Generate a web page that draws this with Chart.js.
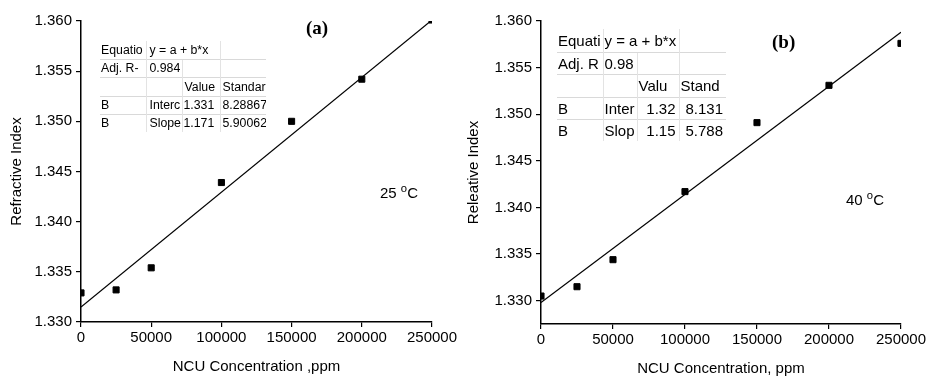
<!DOCTYPE html>
<html>
<head>
<meta charset="utf-8">
<script src="https://cdn.jsdelivr.net/npm/chart.js@4.4.0/dist/chart.umd.min.js"></script>
<style>
  body { margin: 0; background: #fff; }
  #wrap { position: relative; width: 928px; height: 378px; overflow: hidden; background: #fff; }
  canvas { position: absolute; top: 0; }
  #chart-a { left: 0; }
  #chart-b { left: 464px; }
  .lbl { position: absolute; font-family: "Liberation Serif", serif; font-weight: bold; color: #000; white-space: nowrap; }
  .temp { position: absolute; font-family: "Liberation Sans", Arial, sans-serif; color: #000; white-space: nowrap; }
  .temp sup { font-size: 0.75em; position: relative; top: -0.2em; vertical-align: top; }
  table.fit { position: absolute; border-collapse: collapse; table-layout: fixed;
              font-family: "Liberation Sans", Arial, sans-serif; color: #000; }
  table.fit td { padding: 0 0 0 1px; white-space: nowrap; overflow: hidden; }
  table.fit tr + tr td { border-top: 1px solid #d9d9d9; }
  table.fit td.vl { border-left: 1px solid #e3e3e3; }
  table.fit td.num { text-align: right; }
</style>
</head>
<body>
<div id="wrap">
  <canvas id="chart-a" width="464" height="378"></canvas>
  <canvas id="chart-b" width="464" height="378"></canvas>

  <div class="lbl" style="left:306px; top:17px; font-size:19px;">(a)</div>
  <div class="lbl" style="left:772px; top:31px; font-size:19px;">(b)</div>

  <div class="temp" style="left:380px; top:184px; font-size:15px;">25 <sup>o</sup>C</div>
  <div class="temp" style="left:846px; top:191px; font-size:15px;">40 <sup>o</sup>C</div>

  <table class="fit" id="table-a" style="left:100px; top:41px; font-size:12.3px; width:166px;">
    <colgroup><col style="width:46px"><col style="width:36px"><col style="width:38px"><col style="width:46px"></colgroup>
    <tr style="height:18px"><td>Equatio</td><td class="vl" colspan="2" style="padding-left:3px">y = a + b*x</td><td class="vl"></td></tr>
    <tr style="height:18px"><td>Adj. R-</td><td class="vl" style="padding-left:3px">0.984</td><td class="vl"></td><td class="vl"></td></tr>
    <tr style="height:19px"><td></td><td class="vl"></td><td class="vl" style="padding-left:2px">Value</td><td class="vl" style="padding-left:2px">Standar</td></tr>
    <tr style="height:18px"><td>B</td><td class="vl" style="padding-left:3px">Interc</td><td class="vl num" style="padding-right:7px">1.331</td><td class="vl" style="padding-left:2px">8.28867</td></tr>
    <tr style="height:18px"><td>B</td><td class="vl" style="padding-left:3px">Slope</td><td class="vl num" style="padding-right:7px">1.171</td><td class="vl" style="padding-left:2px">5.90062</td></tr>
  </table>

  <table class="fit" id="table-b" style="left:557px; top:29px; font-size:15px; width:169px;">
    <colgroup><col style="width:46px"><col style="width:34px"><col style="width:42px"><col style="width:47px"></colgroup>
    <tr style="height:23px"><td>Equati</td><td class="vl" colspan="2">y = a + b*x</td><td class="vl"></td></tr>
    <tr style="height:22px"><td>Adj. R</td><td class="vl">0.98</td><td class="vl"></td><td class="vl"></td></tr>
    <tr style="height:23px"><td></td><td class="vl"></td><td class="vl">Valu</td><td class="vl">Stand</td></tr>
    <tr style="height:22px"><td>B</td><td class="vl">Inter</td><td class="vl num" style="padding-right:3px">1.32</td><td class="vl num" style="padding-right:3px">8.131</td></tr>
    <tr style="height:22px"><td>B</td><td class="vl">Slop</td><td class="vl num" style="padding-right:3px">1.15</td><td class="vl num" style="padding-right:3px">5.788</td></tr>
  </table>
</div>

<script>
// NCU concentration (ppm) and measured indices
const concentration = [0, 25000, 50000, 100000, 150000, 200000, 250000];
const indexA = [1.3329, 1.3332, 1.3354, 1.3439, 1.3500, 1.3542, 1.3601]; // 25 oC
const indexB = [1.3305, 1.3315, 1.3344, 1.3417, 1.3491, 1.3531, 1.3576]; // 40 oC

// linear fit lines (end points)
const fitX = [0, 250000];
const fitA = [1.3315, 1.3601];
const fitB = [1.3298, 1.3588];

// tick labels
const xTicks = [0, 50000, 100000, 150000, 200000, 250000];
const yTicks = [1.330, 1.335, 1.340, 1.345, 1.350, 1.355, 1.360];

const FONT = 'Liberation Sans';

function toPoints(xs, ys) {
    return xs.map((x, i) => ({ x: x, y: ys[i] }));
}

function makeChart(id, values, fit, cfg) {
    const ctx = document.getElementById(id).getContext('2d');
    return new Chart(ctx, {
        type: 'scatter',
        data: {
            datasets: [{
                label: 'data',
                data: toPoints(concentration, values),
                pointStyle: 'rect',
                pointRadius: 4.3,
                backgroundColor: '#000',
                borderColor: '#000',
                borderWidth: 1
            }, {
                label: 'fit',
                data: toPoints(fitX, fit),
                showLine: true,
                pointRadius: 0,
                borderColor: '#000',
                borderWidth: 1.2
            }]
        },
        options: {
            responsive: false,
            animation: false,
            devicePixelRatio: 1,
            layout: { padding: { left: 0, right: cfg.padRight, top: 21, bottom: 0 } },
            plugins: { legend: { display: false }, tooltip: { enabled: false } },
            scales: {
                x: {
                    type: 'linear',
                    min: 0,
                    max: 250000,
                    afterBuildTicks: (scale) => { scale.ticks = xTicks.map(v => ({ value: v })); },
                    afterFit: (scale) => { scale.height = cfg.xHeight; },
                    border: { color: '#000', width: 1.5 },
                    grid: { drawOnChartArea: false, color: '#000', lineWidth: 1.2, tickLength: 5 },
                    ticks: {
                        color: '#000', font: { family: FONT, size: 15 }, padding: 2,
                        maxRotation: 0, autoSkip: false,
                        callback: (v) => String(v)
                    },
                    title: {
                        display: true, text: cfg.xTitle, color: '#000',
                        font: { family: FONT, size: 15 }, padding: { top: 0, bottom: cfg.xTitlePad }
                    }
                },
                y: {
                    type: 'linear',
                    min: cfg.yMin,
                    max: 1.360,
                    afterBuildTicks: (scale) => { scale.ticks = yTicks.map(v => ({ value: v })); },
                    afterFit: (scale) => { scale.width = cfg.yWidth; },
                    border: { color: '#000', width: 1.5 },
                    grid: { drawOnChartArea: false, color: '#000', lineWidth: 1.2, tickLength: 5 },
                    ticks: {
                        color: '#000', font: { family: FONT, size: 15 }, padding: 4,
                        callback: (v) => Number(v).toFixed(3)
                    },
                    title: {
                        display: true, text: cfg.yTitle, color: '#000',
                        font: { family: FONT, size: 15 }, padding: { top: cfg.yTitlePad, bottom: 0 }
                    }
                }
            }
        }
    });
}

makeChart('chart-a', indexA, fitA, {
    yMin: 1.330, yWidth: 81, xHeight: 56, padRight: 32,
    xTitle: 'NCU Concentration ,ppm', yTitle: 'Refractive Index',
    xTitlePad: 2, yTitlePad: 8
});

makeChart('chart-b', indexB, fitB, {
    yMin: 1.3275, yWidth: 77, xHeight: 54, padRight: 27,
    xTitle: 'NCU Concentration, ppm', yTitle: 'Releative Index',
    xTitlePad: 0, yTitlePad: 1
});
</script>
</body>
</html>
